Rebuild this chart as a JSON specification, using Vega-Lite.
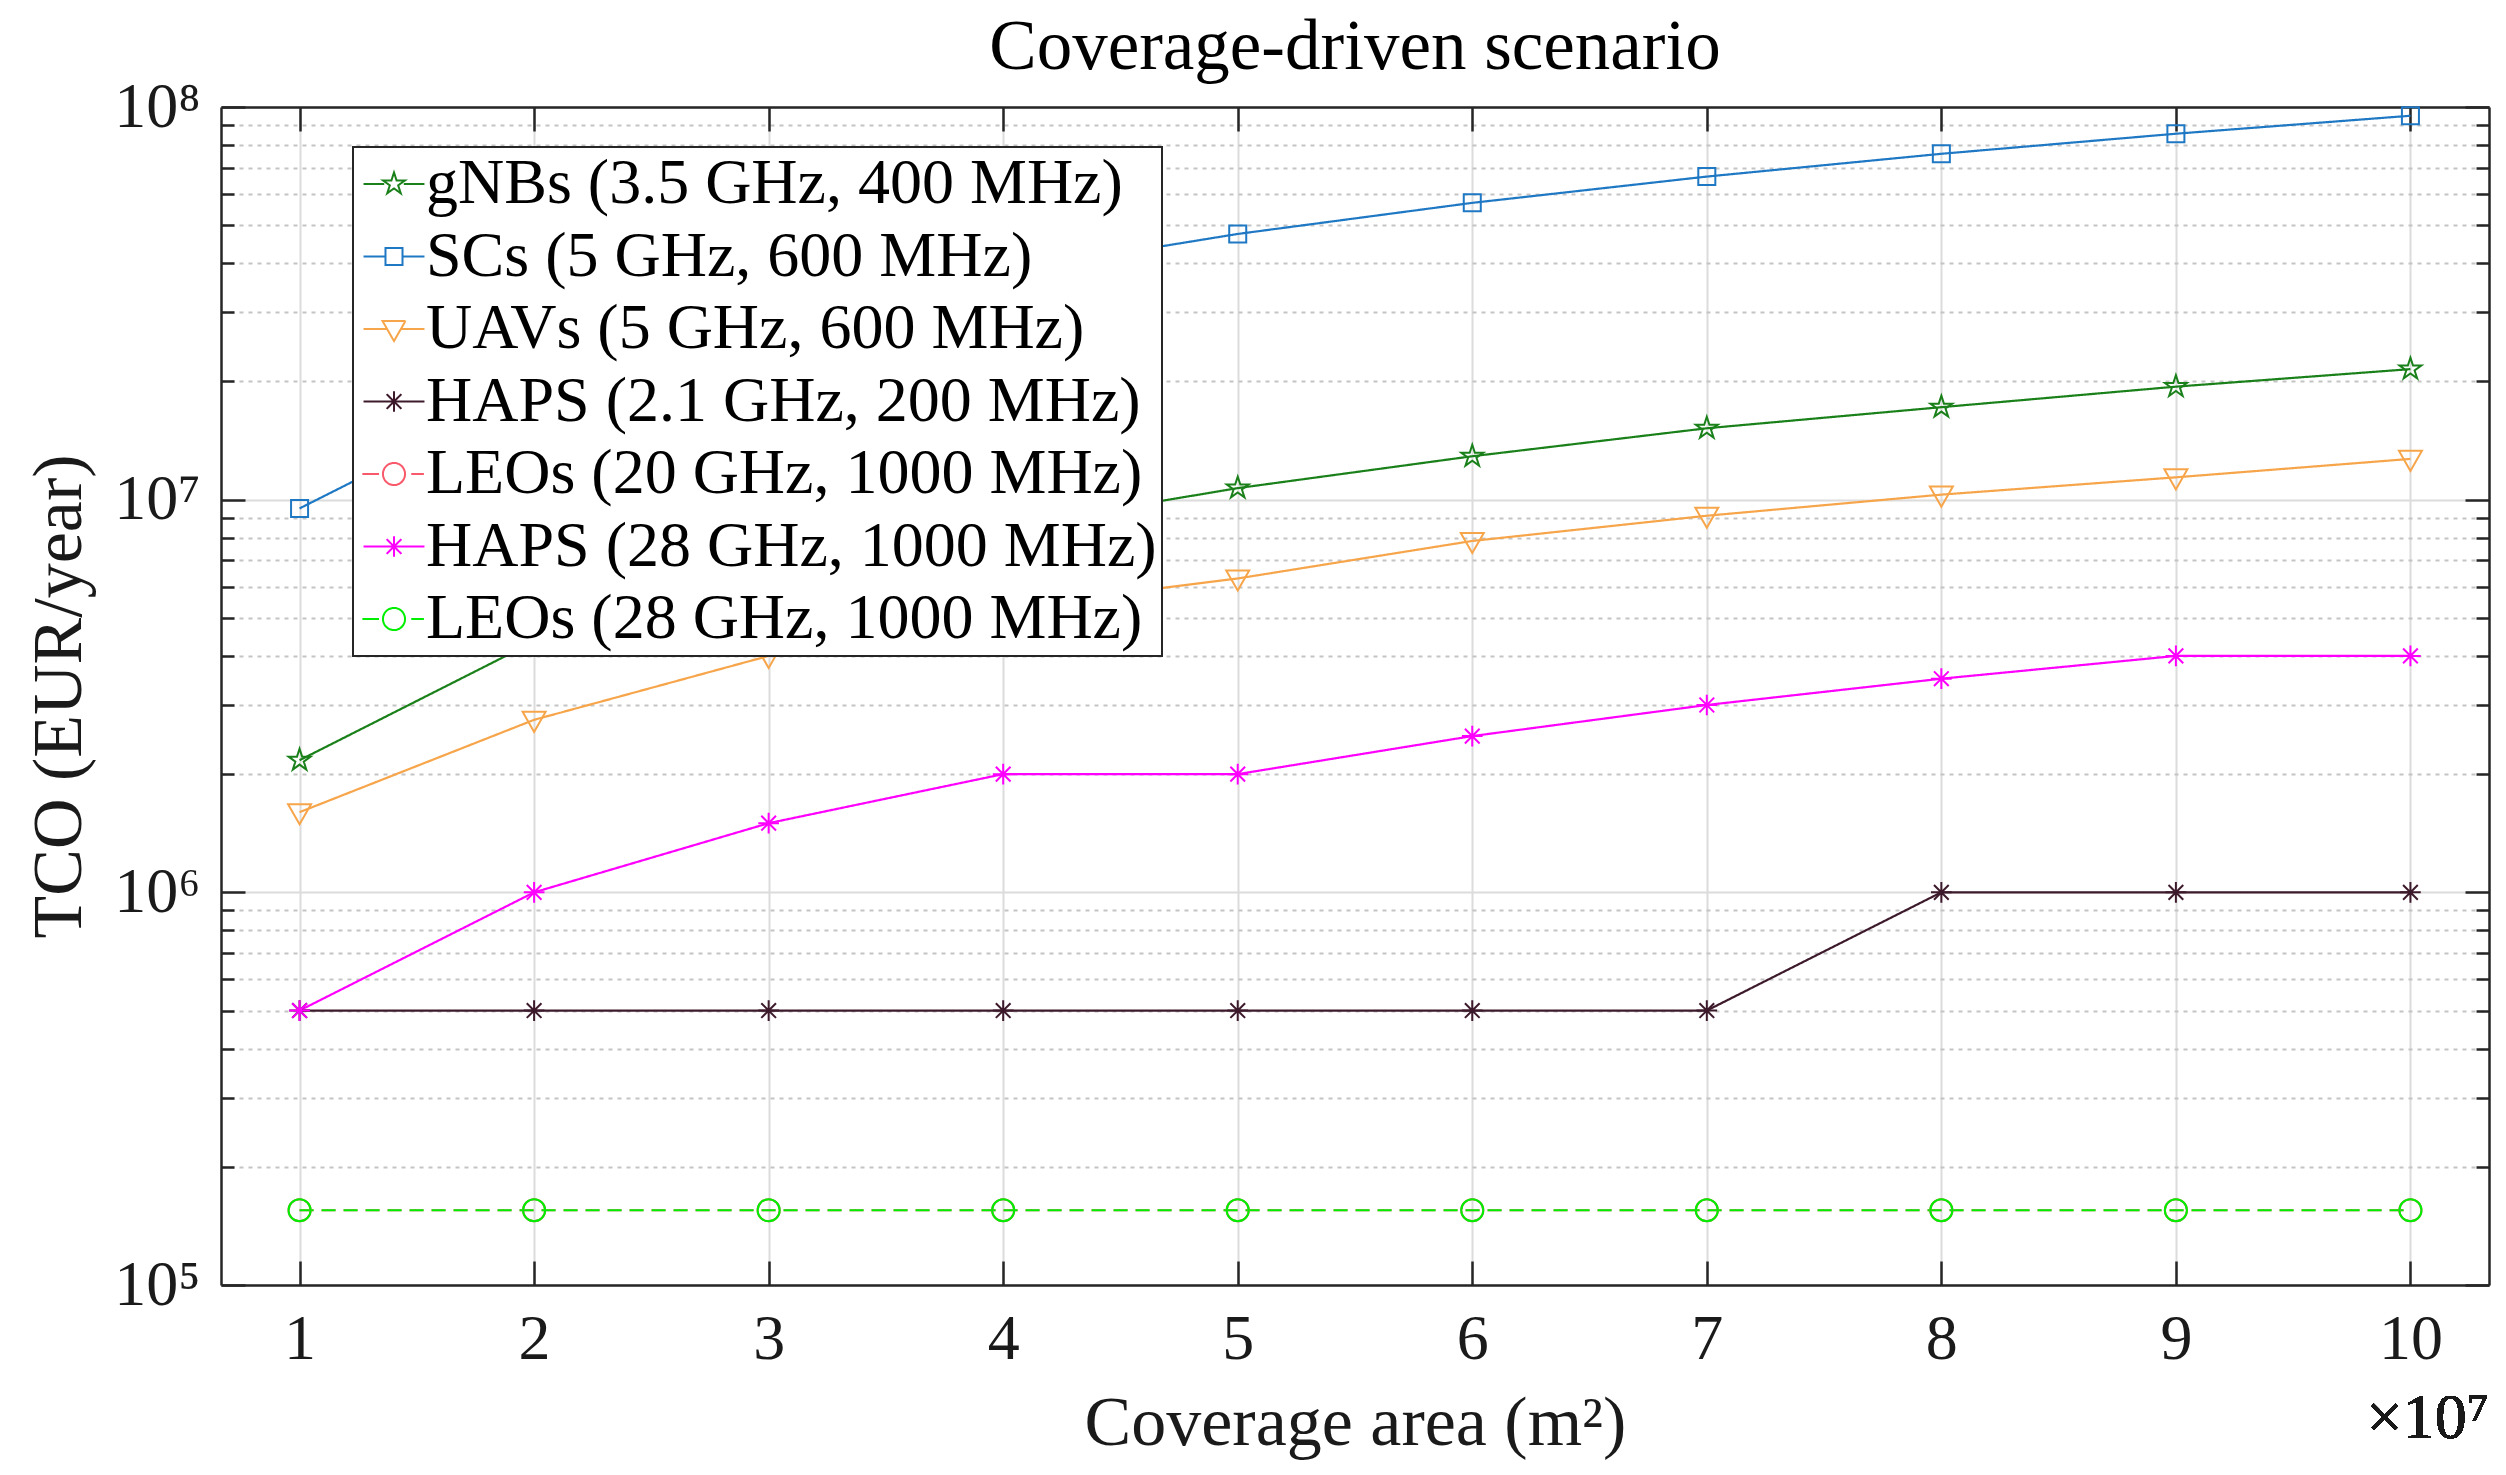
{
  "$schema": "https://vega.github.io/schema/vega-lite/v6.json",
  "width": 2268,
  "height": 1178,
  "autosize": {"type": "none"},
  "padding": {"left": 221, "top": 107, "right": 17, "bottom": 190},
  "background": "white",
  "config": {
    "font": "Liberation Serif",
    "view": {"stroke": null},
    "axis": {
      "labelFont": "Liberation Serif",
      "titleFont": "Liberation Serif",
      "labelColor": "#1a1a1a",
      "titleColor": "#1a1a1a",
      "titleFontWeight": "normal",
      "domainColor": "#262626",
      "domainWidth": 2.5,
      "tickColor": "#262626",
      "tickWidth": 2.5,
      "gridColor": "#dcdcdc",
      "gridWidth": 2
    }
  },
  "title": {
    "text": "Coverage-driven scenario",
    "fontSize": 71,
    "fontWeight": "normal",
    "color": "#000000",
    "anchor": "middle",
    "baseline": "middle",
    "offset": -44
  },
  "data": {
    "values": [
      {"x": 1, "tco": 2170000, "series": "gNBs (3.5 GHz, 400 MHz)"},
      {"x": 2, "tco": 4350000, "series": "gNBs (3.5 GHz, 400 MHz)"},
      {"x": 3, "tco": 6500000, "series": "gNBs (3.5 GHz, 400 MHz)"},
      {"x": 4, "tco": 8500000, "series": "gNBs (3.5 GHz, 400 MHz)"},
      {"x": 5, "tco": 10700000, "series": "gNBs (3.5 GHz, 400 MHz)"},
      {"x": 6, "tco": 12900000, "series": "gNBs (3.5 GHz, 400 MHz)"},
      {"x": 7, "tco": 15200000, "series": "gNBs (3.5 GHz, 400 MHz)"},
      {"x": 8, "tco": 17200000, "series": "gNBs (3.5 GHz, 400 MHz)"},
      {"x": 9, "tco": 19400000, "series": "gNBs (3.5 GHz, 400 MHz)"},
      {"x": 10, "tco": 21500000, "series": "gNBs (3.5 GHz, 400 MHz)"},
      {"x": 1, "tco": 9500000, "series": "SCs (5 GHz, 600 MHz)"},
      {"x": 2, "tco": 19000000, "series": "SCs (5 GHz, 600 MHz)"},
      {"x": 3, "tco": 28500000, "series": "SCs (5 GHz, 600 MHz)"},
      {"x": 4, "tco": 38000000, "series": "SCs (5 GHz, 600 MHz)"},
      {"x": 5, "tco": 47500000, "series": "SCs (5 GHz, 600 MHz)"},
      {"x": 6, "tco": 57000000, "series": "SCs (5 GHz, 600 MHz)"},
      {"x": 7, "tco": 66500000, "series": "SCs (5 GHz, 600 MHz)"},
      {"x": 8, "tco": 76000000, "series": "SCs (5 GHz, 600 MHz)"},
      {"x": 9, "tco": 85500000, "series": "SCs (5 GHz, 600 MHz)"},
      {"x": 10, "tco": 95000000, "series": "SCs (5 GHz, 600 MHz)"},
      {"x": 1, "tco": 1600000, "series": "UAVs (5 GHz, 600 MHz)"},
      {"x": 2, "tco": 2750000, "series": "UAVs (5 GHz, 600 MHz)"},
      {"x": 3, "tco": 4000000, "series": "UAVs (5 GHz, 600 MHz)"},
      {"x": 4, "tco": 5300000, "series": "UAVs (5 GHz, 600 MHz)"},
      {"x": 5, "tco": 6300000, "series": "UAVs (5 GHz, 600 MHz)"},
      {"x": 6, "tco": 7850000, "series": "UAVs (5 GHz, 600 MHz)"},
      {"x": 7, "tco": 9100000, "series": "UAVs (5 GHz, 600 MHz)"},
      {"x": 8, "tco": 10300000, "series": "UAVs (5 GHz, 600 MHz)"},
      {"x": 9, "tco": 11400000, "series": "UAVs (5 GHz, 600 MHz)"},
      {"x": 10, "tco": 12700000, "series": "UAVs (5 GHz, 600 MHz)"},
      {"x": 1, "tco": 500000, "series": "HAPS (2.1 GHz, 200 MHz)"},
      {"x": 2, "tco": 500000, "series": "HAPS (2.1 GHz, 200 MHz)"},
      {"x": 3, "tco": 500000, "series": "HAPS (2.1 GHz, 200 MHz)"},
      {"x": 4, "tco": 500000, "series": "HAPS (2.1 GHz, 200 MHz)"},
      {"x": 5, "tco": 500000, "series": "HAPS (2.1 GHz, 200 MHz)"},
      {"x": 6, "tco": 500000, "series": "HAPS (2.1 GHz, 200 MHz)"},
      {"x": 7, "tco": 500000, "series": "HAPS (2.1 GHz, 200 MHz)"},
      {"x": 8, "tco": 1000000, "series": "HAPS (2.1 GHz, 200 MHz)"},
      {"x": 9, "tco": 1000000, "series": "HAPS (2.1 GHz, 200 MHz)"},
      {"x": 10, "tco": 1000000, "series": "HAPS (2.1 GHz, 200 MHz)"},
      {"x": 1, "tco": 155000, "series": "LEOs (20 GHz, 1000 MHz)"},
      {"x": 2, "tco": 155000, "series": "LEOs (20 GHz, 1000 MHz)"},
      {"x": 3, "tco": 155000, "series": "LEOs (20 GHz, 1000 MHz)"},
      {"x": 4, "tco": 155000, "series": "LEOs (20 GHz, 1000 MHz)"},
      {"x": 5, "tco": 155000, "series": "LEOs (20 GHz, 1000 MHz)"},
      {"x": 6, "tco": 155000, "series": "LEOs (20 GHz, 1000 MHz)"},
      {"x": 7, "tco": 155000, "series": "LEOs (20 GHz, 1000 MHz)"},
      {"x": 8, "tco": 155000, "series": "LEOs (20 GHz, 1000 MHz)"},
      {"x": 9, "tco": 155000, "series": "LEOs (20 GHz, 1000 MHz)"},
      {"x": 10, "tco": 155000, "series": "LEOs (20 GHz, 1000 MHz)"},
      {"x": 1, "tco": 500000, "series": "HAPS (28 GHz, 1000 MHz)"},
      {"x": 2, "tco": 1000000, "series": "HAPS (28 GHz, 1000 MHz)"},
      {"x": 3, "tco": 1500000, "series": "HAPS (28 GHz, 1000 MHz)"},
      {"x": 4, "tco": 2000000, "series": "HAPS (28 GHz, 1000 MHz)"},
      {"x": 5, "tco": 2000000, "series": "HAPS (28 GHz, 1000 MHz)"},
      {"x": 6, "tco": 2500000, "series": "HAPS (28 GHz, 1000 MHz)"},
      {"x": 7, "tco": 3000000, "series": "HAPS (28 GHz, 1000 MHz)"},
      {"x": 8, "tco": 3500000, "series": "HAPS (28 GHz, 1000 MHz)"},
      {"x": 9, "tco": 4000000, "series": "HAPS (28 GHz, 1000 MHz)"},
      {"x": 10, "tco": 4000000, "series": "HAPS (28 GHz, 1000 MHz)"},
      {"x": 1, "tco": 155000, "series": "LEOs (28 GHz, 1000 MHz)"},
      {"x": 2, "tco": 155000, "series": "LEOs (28 GHz, 1000 MHz)"},
      {"x": 3, "tco": 155000, "series": "LEOs (28 GHz, 1000 MHz)"},
      {"x": 4, "tco": 155000, "series": "LEOs (28 GHz, 1000 MHz)"},
      {"x": 5, "tco": 155000, "series": "LEOs (28 GHz, 1000 MHz)"},
      {"x": 6, "tco": 155000, "series": "LEOs (28 GHz, 1000 MHz)"},
      {"x": 7, "tco": 155000, "series": "LEOs (28 GHz, 1000 MHz)"},
      {"x": 8, "tco": 155000, "series": "LEOs (28 GHz, 1000 MHz)"},
      {"x": 9, "tco": 155000, "series": "LEOs (28 GHz, 1000 MHz)"},
      {"x": 10, "tco": 155000, "series": "LEOs (28 GHz, 1000 MHz)"}
    ]
  },
  "resolve": {"axis": {"x": "independent", "y": "independent"}},
  "layer": [
    {
      "mark": {"type": "line", "strokeWidth": 2.2},
      "encoding": {
        "x": {
          "field": "x", "type": "quantitative",
          "scale": {"domain": [0.665, 10.335], "nice": false, "zero": false},
          "axis": {
            "orient": "bottom",
            "values": [1, 2, 3, 4, 5, 6, 7, 8, 9, 10],
            "format": "d",
            "title": "Coverage area (m²)",
            "titleFontSize": 70,
            "titlePadding": 18,
            "labelFontSize": 64,
            "labelPadding": 46,
            "tickSize": -24,
            "grid": true
          }
        },
        "y": {
          "field": "tco", "type": "quantitative",
          "scale": {"type": "log", "domain": [100000, 100000000], "nice": false},
          "axis": {
            "orient": "left",
            "values": [100000, 200000, 300000, 400000, 500000, 600000, 700000, 800000, 900000, 1000000, 2000000, 3000000, 4000000, 5000000, 6000000, 7000000, 8000000, 9000000, 10000000, 20000000, 30000000, 40000000, 50000000, 60000000, 70000000, 80000000, 90000000, 100000000],
            "labelExpr": "abs(log(datum.value)/LN10 - round(log(datum.value)/LN10)) < 0.000001 ? '10' + ['⁰','¹','²','³','⁴','⁵','⁶','⁷','⁸','⁹'][round(log(datum.value)/LN10)] : ''",
            "title": "TCO (EUR/year)",
            "titleFontSize": 70,
            "titlePadding": 18,
            "labelFontSize": 64,
            "labelPadding": 45,
            "tickSize": {"condition": {"test": "abs(log(datum.value)/LN10 - round(log(datum.value)/LN10)) < 0.000001", "value": -24}, "value": -13},
            "grid": true,
            "gridDash": {"condition": {"test": "abs(log(datum.value)/LN10 - round(log(datum.value)/LN10)) < 0.000001", "value": []}, "value": [4, 5]},
            "gridColor": {"condition": {"test": "abs(log(datum.value)/LN10 - round(log(datum.value)/LN10)) < 0.000001", "value": "#dcdcdc"}, "value": "#c4c4c4"}
          }
        },
        "color": {
          "field": "series", "type": "nominal",
          "scale": {
            "domain": ["gNBs (3.5 GHz, 400 MHz)", "SCs (5 GHz, 600 MHz)", "UAVs (5 GHz, 600 MHz)", "HAPS (2.1 GHz, 200 MHz)", "LEOs (20 GHz, 1000 MHz)", "HAPS (28 GHz, 1000 MHz)", "LEOs (28 GHz, 1000 MHz)"],
            "range": ["#1a801a", "#1f78c4", "#f7a54a", "#3d1a2b", "#f8596b", "#ff00ff", "#00ee00"]
          },
          "legend": {
            "title": null,
            "orient": "none",
            "legendX": 132,
            "legendY": 40,
            "direction": "vertical",
            "fillColor": "white",
            "strokeColor": "#262626",
            "padding": 5,
            "labelFont": "Liberation Serif",
            "labelFontSize": 64,
            "labelColor": "#000000",
            "labelLimit": 2000,
            "labelOffset": 0,
            "symbolOffset": 4,
            "symbolSize": 529,
            "symbolStrokeWidth": 2,
            "rowPadding": 8.5,
            "encoding": {
              "legend": {"strokeWidth": {"value": 2}},
              "symbols": {
                "fill": {"value": "transparent"},
                "strokeWidth": {"value": 2},
                "strokeDash": {"value": [1, 0]},
                "size": {"value": 529},
                "shape": {"value": {"expr": "['M-2.65,0L-0.85,0M0.85,0L2.65,0M0,-1L0.225,-0.309L0.951,-0.309L0.363,0.118L0.588,0.809L0,0.382L-0.588,0.809L-0.363,0.118L-0.951,-0.309L-0.225,-0.309Z', 'M-2.65,0L-0.74,0M0.74,0L2.65,0M-0.74,-0.74L0.74,-0.74L0.74,0.74L-0.74,0.74Z', 'M-2.65,0L-0.6,0M0.6,0L2.65,0M-1,-0.7L1,-0.7L0,1.05Z', 'M-2.65,0L2.65,0M0,-0.9L0,0.9M-0.64,-0.64L0.64,0.64M-0.64,0.64L0.64,-0.64', 'M-2.75,0L-1.3,0M1.5,0L2.6,0M-0.96,0A0.96,0.96 0 1,0 0.96,0A0.96,0.96 0 1,0 -0.96,0Z', 'M-2.65,0L2.65,0M0,-0.9L0,0.9M-0.64,-0.64L0.64,0.64M-0.64,0.64L0.64,-0.64', 'M-2.75,0L-1.3,0M1.5,0L2.6,0M-0.96,0A0.96,0.96 0 1,0 0.96,0A0.96,0.96 0 1,0 -0.96,0Z'][datum.index]"}}
              }
            }
          }
        },
        "strokeDash": {
          "field": "series", "type": "nominal",
          "scale": {
            "domain": ["LEOs (28 GHz, 1000 MHz)", "HAPS (28 GHz, 1000 MHz)", "LEOs (20 GHz, 1000 MHz)", "HAPS (2.1 GHz, 200 MHz)", "UAVs (5 GHz, 600 MHz)", "SCs (5 GHz, 600 MHz)", "gNBs (3.5 GHz, 400 MHz)"],
            "range": [[14, 8], [1, 0], [14, 8], [1, 0], [1, 0], [1, 0], [1, 0]]
          },
          "legend": null
        }
      }
    },
    {
      "mark": {"type": "point", "filled": false, "strokeWidth": 2, "size": 529, "opacity": 1},
      "encoding": {
        "x": {
          "field": "x", "type": "quantitative",
          "axis": {
            "orient": "top",
            "values": [1, 2, 3, 4, 5, 6, 7, 8, 9, 10],
            "labels": false,
            "title": null,
            "grid": false,
            "tickSize": -24
          }
        },
        "y": {
          "field": "tco", "type": "quantitative",
          "axis": {
            "orient": "right",
            "values": [100000, 200000, 300000, 400000, 500000, 600000, 700000, 800000, 900000, 1000000, 2000000, 3000000, 4000000, 5000000, 6000000, 7000000, 8000000, 9000000, 10000000, 20000000, 30000000, 40000000, 50000000, 60000000, 70000000, 80000000, 90000000, 100000000],
            "labels": false,
            "title": null,
            "grid": false,
            "tickSize": {"condition": {"test": "abs(log(datum.value)/LN10 - round(log(datum.value)/LN10)) < 0.000001", "value": -24}, "value": -13}
          }
        },
        "color": {"field": "series", "type": "nominal"},
        "shape": {
          "field": "series", "type": "nominal",
          "scale": {
            "domain": ["LEOs (28 GHz, 1000 MHz)", "HAPS (28 GHz, 1000 MHz)", "LEOs (20 GHz, 1000 MHz)", "HAPS (2.1 GHz, 200 MHz)", "UAVs (5 GHz, 600 MHz)", "SCs (5 GHz, 600 MHz)", "gNBs (3.5 GHz, 400 MHz)"],
            "range": [
              "M-0.96,0A0.96,0.96 0 1,0 0.96,0A0.96,0.96 0 1,0 -0.96,0Z",
              "M0,-0.9L0,0.9M-0.9,0L0.9,0M-0.64,-0.64L0.64,0.64M-0.64,0.64L0.64,-0.64",
              "M-0.96,0A0.96,0.96 0 1,0 0.96,0A0.96,0.96 0 1,0 -0.96,0Z",
              "M0,-0.9L0,0.9M-0.9,0L0.9,0M-0.64,-0.64L0.64,0.64M-0.64,0.64L0.64,-0.64",
              "M-1,-0.7L1,-0.7L0,1.05Z",
              "M-0.74,-0.74L0.74,-0.74L0.74,0.74L-0.74,0.74Z",
              "M0,-1L0.225,-0.309L0.951,-0.309L0.363,0.118L0.588,0.809L0,0.382L-0.588,0.809L-0.363,0.118L-0.951,-0.309L-0.225,-0.309Z"
            ]
          },
          "legend": null
        }
      }
    },
    {
      "mark": {"type": "text", "text": "×10⁷", "fontSize": 64, "align": "right", "baseline": "middle", "color": "#1a1a1a"},
      "encoding": {
        "x": {"datum": 10.335, "type": "quantitative", "axis": null},
        "y": {"datum": 45500, "type": "quantitative", "axis": null}
      }
    }
  ]
}
